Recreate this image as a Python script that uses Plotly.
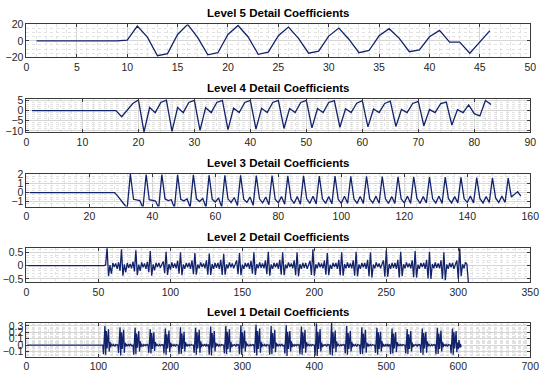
import plotly.graph_objects as go

# ---------------- data ----------------
L5 = [0, 0, 0, 0, 0, 0, 0, 0, 0, 1, 18, 4.5, -18, -15.5, 7.8, 20, 4, -17, -14.4, 7.8,
      18.7, 4.7, -16.3, -13.6, 6.2, 16.7, 3, -15, -12.5, 5.8, 15.6, 2, -14.4, -11.7, 6.2,
      14.8, 3, -13.2, -10.9, 5, 12.8, -1.5, -1.5, -15, -1, 12.5]

L4 = [0] * 16 + [-3, 0.5, 3.5, 5.2,
      -10.5, 1.5, -1, 4, 5.1, -10.2, 1.5, -1, 4, 5, -9.7, 1.4, -1, 4, 5,
      -9.4, 1.2, -1, 4, 5, -9.1, 1.1, -1, 4, 5, -8.8, 1, -1, 4, 5,
      -8.5, 1, -1, 4, 4.9, -8.2, 0.9, -1, 3.6, 4.9, -8, 0.8, -1, 3.5, 4.6,
      -7.8, 0.6, -1, 3.5, 4.5, -7.5, 0.5, -1, 3.4, 4.2, -7.1, 0.5, -1, 2.8,
      -1.5, -2.6, 5, 3]

L3 = [0] * 28 + [-0.4, -0.9, -1.3, -1.7,
      2.05, -0.75, -0.85, -0.9, -1.7,
      2.0, -0.8, -0.85, -0.95, -1.7,
      1.98, -0.7, -0.9, -0.8, -1.7,
      1.95, -0.75, -0.95, -0.7, -1.65,
      1.95, -0.7, -1.0, -0.65, -1.65,
      1.92, -0.75, -1.05, -0.6, -1.6,
      1.9, -0.7, -1.1, -0.55, -1.45,
      1.9, -0.75, -1.1, -0.5, -1.4,
      1.88, -0.7, -1.15, -0.5, -1.35,
      1.88, -0.75, -1.15, -0.45, -1.3,
      1.85, -0.7, -1.2, -0.45, -1.3,
      1.85, -0.7, -1.2, -0.4, -1.25,
      1.83, -0.7, -1.2, -0.45, -1.25,
      1.82, -0.75, -1.2, -0.4, -1.2,
      1.8, -0.7, -1.2, -0.45, -1.2,
      1.8, -0.7, -1.15, -0.4, -1.2,
      1.78, -0.7, -1.2, -0.45, -1.2,
      1.75, -0.7, -1.15, -0.4, -1.2,
      1.75, -0.65, -1.2, -0.45, -1.15,
      1.72, -0.7, -1.15, -0.4, -1.2,
      1.7, -0.65, -1.15, -0.45, -1.15,
      1.68, -0.7, -1.1, -0.4, -1.15,
      1.65, -0.65, -1.15, -0.45, -1.1,
      1.62, -0.6, -1.1, -0.4, -1.1,
      1.6, -0.5, -0.2, 0.1, -0.4]

L2 = [0] * 54 + [0.03,
      0.68, -0.4, 0.02, -0.3, 0.1, -0.05, 0.08, -0.12, 0.12, -0.2,
      0.62, -0.38, 0.05, -0.25, 0.1, -0.08, 0.06, -0.1, 0.15, -0.22,
      0.58, -0.36, 0.04, -0.2, 0.12, -0.06, 0.08, -0.12, 0.14, -0.25,
      0.55, -0.38, 0.05, -0.18, 0.1, -0.05, 0.1, -0.08, 0.02, 0.16, -0.28,
      0.52, -0.35, 0.06, -0.15, 0.12, -0.08, 0.08, -0.1, 0.18, -0.3,
      0.5, -0.36, 0.05, -0.12, 0.1, -0.06, 0.1, -0.12, 0.2, -0.32,
      0.48, -0.34, 0.04, -0.1, 0.12, -0.05, 0.08, -0.1, 0.2, -0.34,
      0.46, -0.35, 0.06, -0.12, 0.1, -0.08, 0.1, -0.12, 0.22, -0.35,
      0.45, -0.34, 0.05, -0.1, 0.12, -0.06, 0.08, -0.1, 0.04, 0.2, -0.32,
      0.48, -0.36, 0.04, -0.12, 0.1, -0.05, 0.1, -0.12, 0.18, -0.3,
      0.5, -0.35, 0.06, -0.1, 0.12, -0.08, 0.08, -0.1, 0.2, -0.32,
      0.52, -0.38, 0.05, -0.12, 0.1, -0.06, 0.1, -0.12, 0.22, -0.34,
      0.5, -0.36, 0.04, -0.1, 0.12, -0.05, 0.08, -0.1, 0.2, -0.36,
      0.5, -0.4, 0.06, -0.12, 0.1, -0.08, 0.1, -0.12, 0.04, 0.18, -0.35,
      0.62, -0.38, 0.05, -0.1, 0.12, -0.06, 0.08, -0.1, 0.2, -0.34,
      0.48, -0.36, 0.04, -0.12, 0.1, -0.05, 0.1, -0.12, 0.22, -0.36,
      0.5, -0.38, 0.06, -0.1, 0.12, -0.08, 0.08, -0.1, 0.2, -0.38,
      0.52, -0.4, 0.05, -0.12, 0.1, -0.06, 0.1, -0.12, 0.22, -0.4,
      0.5, -0.45, 0.04, -0.1, 0.12, -0.05, 0.08, -0.1, 0.05, 0.2, -0.42,
      0.6, -0.42, 0.06, -0.12, 0.1, -0.08, 0.1, -0.12, 0.22, -0.45,
      0.52, -0.4, 0.05, -0.1, 0.12, -0.06, 0.08, -0.1, 0.2, -0.44,
      0.55, -0.45, 0.04, -0.12, 0.1, -0.05, 0.1, -0.12, 0.22, -0.48,
      0.52, -0.5, 0.06, -0.1, 0.12, -0.08, 0.08, -0.1, 0.2, -0.5,
      0.5, -0.55, 0.05, -0.12, 0.1, -0.06, 0.1, -0.12, 0.05, 0.2, -0.5,
      0.66, -0.4, 0.05, -0.1, 0.12, 0.05, -0.62]

L1 = [0] * 105 + [
    0, -0.14, 0.06, 0.3, -0.15, 0.22, -0.05, 0.1, 0.25, -0.1, 0.05, -0.03, 0.02, 0, -0.01, 0.01, 0, -0.02, 0.01, 0, 0,
    0.01, -0.12, 0.08, 0.28, -0.16, 0.2, -0.06, 0.12, 0.24, -0.12, 0.04, -0.02, 0.02, -0.01, 0, 0.01, -0.01, 0, 0.02, -0.01, 0,
    0, -0.15, 0.05, 0.27, -0.14, 0.18, -0.04, 0.1, 0.22, -0.1, 0.06, -0.03, 0.01, 0, -0.02, 0.01, 0, -0.01, 0.01, 0, 0.01,
    0, -0.12, 0.04, 0.25, -0.13, 0.19, -0.06, 0.11, 0.2, -0.09, 0.05, -0.02, 0.02, 0, -0.01, 0, 0.01, -0.01, 0, 0.01, 0,
    0.01, -0.13, 0.06, 0.26, -0.15, 0.17, -0.05, 0.1, 0.23, -0.11, 0.04, -0.03, 0.01, 0, -0.01, 0.01, 0, -0.02, 0.01, 0, 0,
    0, -0.14, 0.05, 0.28, -0.14, 0.18, -0.06, 0.12, 0.21, -0.1, 0.05, -0.02, 0.02, -0.01, 0, 0.01, -0.01, 0, 0.01, 0, 0,
    0, -0.12, 0.07, 0.27, -0.15, 0.2, -0.05, 0.1, 0.24, -0.12, 0.06, -0.03, 0.01, 0, -0.01, 0.01, 0, -0.01, 0.02, -0.01, 0,
    0.01, -0.15, 0.05, 0.29, -0.16, 0.19, -0.04, 0.11, 0.22, -0.1, 0.04, -0.02, 0.02, 0, -0.02, 0.01, 0, -0.01, 0.01, 0, 0,
    0, -0.13, 0.06, 0.3, -0.14, 0.21, -0.06, 0.1, 0.25, -0.11, 0.05, -0.03, 0.01, -0.01, 0, 0.01, 0, -0.02, 0.01, 0, 0.01,
    0, -0.14, 0.04, 0.31, -0.15, 0.2, -0.05, 0.12, 0.23, -0.1, 0.06, -0.02, 0.02, 0, -0.01, 0, 0.01, -0.01, 0, 0.01, 0,
    0.01, -0.12, 0.05, 0.32, -0.16, 0.22, -0.06, 0.11, 0.26, -0.12, 0.05, -0.03, 0.01, 0, -0.01, 0.01, 0, -0.02, 0.01, 0, 0,
    0, -0.15, 0.06, 0.3, -0.14, 0.19, -0.05, 0.1, 0.24, -0.11, 0.04, -0.02, 0.02, -0.01, 0, 0.01, -0.01, 0, 0.02, -0.01, 0,
    0, -0.13, 0.05, 0.31, -0.17, 0.21, -0.06, 0.12, 0.22, -0.1, 0.06, -0.03, 0.01, 0, -0.02, 0.01, 0, -0.01, 0.01, 0, 0,
    0.01, -0.14, 0.06, 0.29, -0.15, 0.2, -0.05, 0.11, 0.24, -0.12, 0.05, -0.02, 0.02, 0, -0.01, 0.01, 0, -0.01, 0.01, 0, 0,
    0, -0.16, 0.05, 0.34, -0.17, 0.21, -0.06, 0.1, 0.25, -0.1, 0.04, -0.03, 0.01, -0.01, 0, 0.01, 0, -0.02, 0.01, 0, 0.01,
    0, -0.15, 0.04, 0.35, -0.16, 0.2, -0.05, 0.12, 0.23, -0.11, 0.06, -0.02, 0.02, 0, -0.01, 0, 0.01, -0.01, 0, 0.01, 0,
    0.01, -0.13, 0.06, 0.3, -0.15, 0.19, -0.06, 0.11, 0.22, -0.1, 0.05, -0.03, 0.01, 0, -0.01, 0.01, 0, -0.02, 0.01, 0, 0,
    0, -0.14, 0.05, 0.28, -0.14, 0.18, -0.05, 0.1, 0.24, -0.12, 0.04, -0.02, 0.02, -0.01, 0, 0.01, -0.01, 0, 0.01, 0, 0,
    0, -0.12, 0.06, 0.27, -0.15, 0.2, -0.06, 0.12, 0.21, -0.1, 0.06, -0.03, 0.01, 0, -0.02, 0.01, 0, -0.01, 0.02, -0.01, 0,
    0.01, -0.14, 0.05, 0.26, -0.13, 0.18, -0.05, 0.11, 0.2, -0.11, 0.05, -0.02, 0.02, 0, -0.01, 0.01, 0, -0.01, 0.01, 0, 0,
    0, -0.13, 0.04, 0.25, -0.14, 0.17, -0.06, 0.1, 0.22, -0.1, 0.04, -0.03, 0.01, -0.01, 0, 0.01, 0, -0.02, 0.01, 0, 0.01,
    0, -0.12, 0.06, 0.26, -0.15, 0.19, -0.05, 0.12, 0.21, -0.12, 0.06, -0.02, 0.02, 0, -0.01, 0, 0.01, -0.01, 0, 0.01, 0,
    0.01, -0.14, 0.05, 0.27, -0.14, 0.18, -0.06, 0.11, 0.23, -0.1, 0.05, -0.03, 0.01, 0, -0.01, 0.01, 0, -0.02, 0.01, 0, 0,
    0, -0.13, 0.06, 0.26, -0.15, 0.2, -0.05, 0.12, 0.22, -0.11, 0.04, -0.06, 0.08, -0.04, 0.02, -0.03]

TITLES = ["Level 5 Detail Coefficients", "Level 4 Detail Coefficients",
          "Level 3 Detail Coefficients", "Level 2 Detail Coefficients",
          "Level 1 Detail Coefficients"]
SERIES = [L5, L4, L3, L2, L1]

# ---------------- layout / style ----------------
W, H = 550, 383
X0, X1 = 24, 539
panels = [
    dict(xr=[0, 50], xd=5, xm=1, yr=[-20, 20], yd=20, ym=5, top=19, bot=53),
    dict(xr=[0, 90], xd=10, xm=2, yr=[-10.5, 5.7], yd=5, ym=1, top=96, bot=130),
    dict(xr=[0, 160], xd=20, xm=4, yr=[-1.55, 2.1], yd=1, ym=0.25, top=173, bot=207),
    dict(xr=[0, 350], xd=50, xm=10, yr=[-0.62, 0.66], yd=0.5, ym=0.1, top=250, bot=285),
    dict(xr=[0, 700], xd=100, xm=10, yr=[-0.18, 0.35], yd=0.1, ym=0.02, top=327, bot=362),
]

FONT = "Liberation Sans, Arial, Helvetica, sans-serif"
LINE_COLOR = "#13236b"
AX_COLOR = "#3a3a3a"
GRID = "#d6d6d6"
MINOR = "#e2e2e2"

fig = go.Figure()
layout = dict(width=W, height=H, margin=dict(l=0, r=0, t=0, b=0),
              paper_bgcolor="white", plot_bgcolor="white", showlegend=False,
              font=dict(family=FONT, size=10.5, color="#262626"),
              annotations=[])

for i, (p, ys, title) in enumerate(zip(panels, SERIES, TITLES)):
    n = i + 1
    xs = list(range(1, len(ys) + 1))
    fig.add_trace(go.Scatter(x=xs, y=ys, mode="lines",
                             line=dict(color=LINE_COLOR, width=1.3),
                             xaxis=f"x{n}", yaxis=f"y{n}", hoverinfo="skip"))
    xdom = [X0 / W, X1 / W]
    ydom = [1 - p["bot"] / H, 1 - p["top"] / H]
    common = dict(showline=True, linecolor=AX_COLOR, linewidth=1, mirror="ticks",
                  ticks="inside", ticklen=3, tickcolor=AX_COLOR, zeroline=False,
                  showgrid=True, gridcolor=GRID, gridwidth=1,
                  tickfont=dict(family=FONT, size=10.5, color="#262626"))
    layout[f"xaxis{n}"] = dict(domain=xdom, anchor=f"y{n}", range=p["xr"], dtick=p["xd"],
                               tick0=0,
                               minor=dict(dtick=p["xm"], showgrid=True, gridcolor=MINOR,
                                          griddash="dot", ticks=""),
                               **common)
    layout[f"yaxis{n}"] = dict(domain=ydom, anchor=f"x{n}", range=p["yr"], dtick=p["yd"],
                               tick0=0,
                               minor=dict(dtick=p["ym"], showgrid=True, gridcolor=MINOR,
                                          griddash="dot", ticks=""),
                               **common)
    layout["annotations"].append(dict(
        text=title, xref="paper", yref="paper", x=(xdom[0] + xdom[1]) / 2, y=ydom[1],
        xanchor="center", yanchor="bottom", yshift=3, showarrow=False,
        font=dict(family=FONT, size=11.5, color="black", weight="bold")))

fig.update_layout(**layout)
fig.write_html("out.html", config={"displayModeBar": False},
               post_script="document.body.style.margin='0';document.body.style.overflow='hidden';")
